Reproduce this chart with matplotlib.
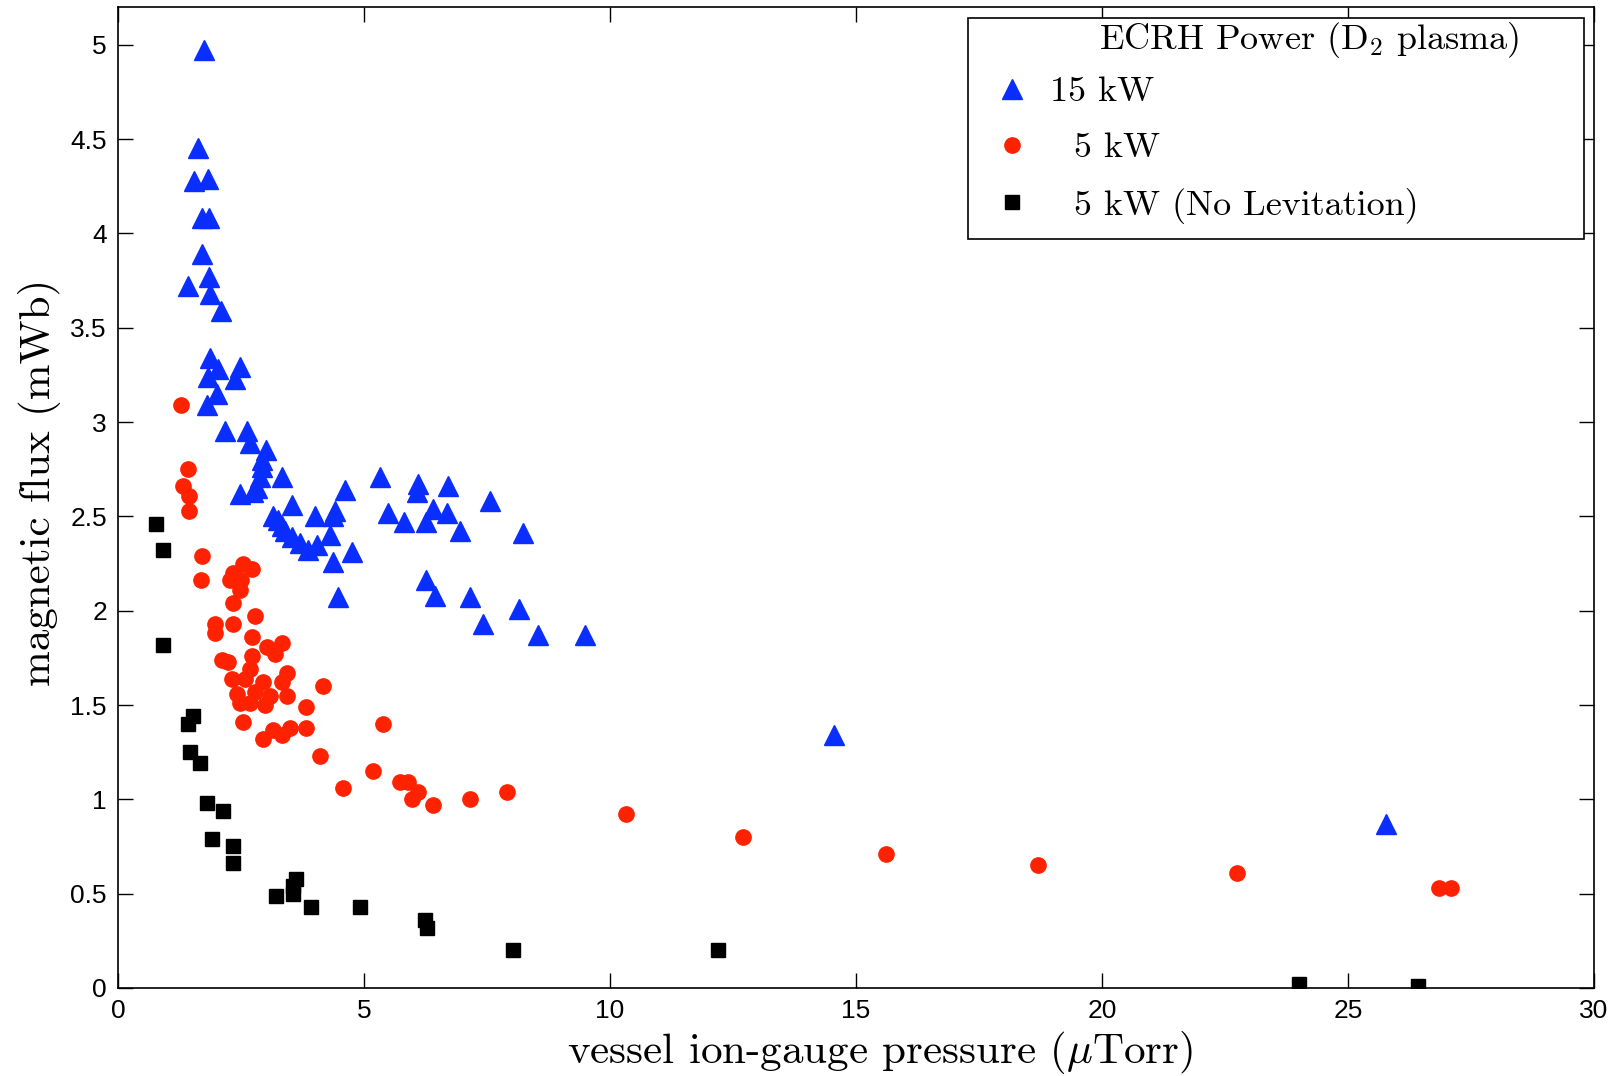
import matplotlib
matplotlib.use('Agg')
import matplotlib.pyplot as plt
from matplotlib.patches import Rectangle

# 15 kW ECRH (levitated)
p15 = [1.75, 1.63, 1.54, 1.82, 1.70, 1.84, 1.71, 1.43, 1.84, 1.87, 2.09, 1.87, 2.04, 2.48,
       1.82, 2.38, 2.01, 1.80, 2.17, 2.62, 2.68, 3.00, 2.93, 2.92, 2.89, 2.82, 2.48, 2.75,
       3.33, 4.61, 5.33, 6.10, 6.07, 6.71, 7.57, 3.53, 3.16, 3.25, 3.33, 3.39, 3.53, 3.70,
       3.87, 4.04, 4.00, 4.41, 4.38, 4.31, 4.38, 4.75, 4.48, 5.49, 5.81, 6.27, 6.41, 6.69,
       6.95, 8.24, 6.27, 6.44, 7.15, 8.16, 7.41, 8.54, 9.50, 14.55, 25.77]
f15 = [4.97, 4.45, 4.28, 4.29, 4.08, 4.08, 3.89, 3.72, 3.77, 3.68, 3.59, 3.34, 3.28, 3.29,
       3.24, 3.23, 3.15, 3.09, 2.95, 2.95, 2.89, 2.85, 2.80, 2.76, 2.71, 2.65, 2.62, 2.63,
       2.71, 2.64, 2.71, 2.67, 2.63, 2.66, 2.58, 2.56, 2.50, 2.48, 2.45, 2.42, 2.39, 2.36,
       2.32, 2.35, 2.50, 2.53, 2.50, 2.40, 2.26, 2.31, 2.07, 2.52, 2.47, 2.47, 2.54, 2.52,
       2.42, 2.41, 2.16, 2.08, 2.07, 2.01, 1.93, 1.87, 1.87, 1.34, 0.87]

# 5 kW ECRH (levitated)
p5 = [1.28, 1.42, 1.33, 1.45, 1.45, 1.70, 1.68, 2.55, 2.72, 2.34, 2.28, 2.51, 2.48, 2.33,
      2.78, 2.34, 1.97, 1.97, 2.72, 3.33, 3.02, 3.19, 2.72, 2.11, 2.24, 2.68, 3.43, 2.31,
      2.58, 2.95, 3.33, 4.16, 2.41, 2.78, 3.43, 3.09, 2.48, 2.68, 2.99, 3.83, 2.55, 5.39,
      3.16, 2.95, 3.50, 3.33, 3.83, 4.11, 4.58, 5.19, 5.73, 5.90, 6.10, 5.97, 6.41, 7.15,
      7.90, 10.32, 12.71, 15.62, 18.71, 22.75, 26.86, 27.09]
f5 = [3.09, 2.75, 2.66, 2.61, 2.53, 2.29, 2.16, 2.25, 2.22, 2.20, 2.16, 2.16, 2.11, 2.04,
      1.97, 1.93, 1.93, 1.88, 1.86, 1.83, 1.81, 1.77, 1.76, 1.74, 1.73, 1.69, 1.67, 1.64,
      1.64, 1.62, 1.62, 1.60, 1.56, 1.57, 1.55, 1.55, 1.51, 1.51, 1.50, 1.49, 1.41, 1.40,
      1.37, 1.32, 1.38, 1.34, 1.38, 1.23, 1.06, 1.15, 1.09, 1.09, 1.04, 1.00, 0.97, 1.00,
      1.04, 0.92, 0.80, 0.71, 0.65, 0.61, 0.53, 0.53]

# 5 kW ECRH, dipole supported (no levitation)
p5n = [0.77, 0.92, 0.92, 1.52, 1.43, 1.46, 1.67, 1.80, 2.13, 1.92, 2.34, 2.34, 3.21, 3.62,
       3.56, 3.55, 3.92, 4.92, 6.25, 6.29, 8.03, 12.20, 24.01, 26.42]
f5n = [2.46, 2.32, 1.82, 1.44, 1.40, 1.25, 1.19, 0.98, 0.94, 0.79, 0.75, 0.66, 0.49, 0.58,
       0.54, 0.50, 0.43, 0.43, 0.36, 0.32, 0.20, 0.20, 0.02, 0.01]

labels = ['15 kW', '  5 kW', '  5 kW (No Levitation)']
legend_title = r'ECRH Power ($\mathrm{D}_2$ plasma)'

plt.rcParams['mathtext.fontset'] = 'cm'

fig = plt.figure(figsize=(16.12, 10.76), dpi=100)
ax = fig.add_axes([0.0732, 0.0818, 0.9156, 0.9117])

ax.plot(p15, f15, linestyle='none', marker='^', ms=15, color='#0a2eff', mec='#0a2eff', mew=1, label=labels[0])
ax.plot(p5, f5, linestyle='none', marker='o', ms=11, color='#ff2200', mec='#ff2200', mew=1, label=labels[1])
ax.plot(p5n, f5n, linestyle='none', marker='s', ms=9.5, color='black', mec='black', mew=1, label=labels[2])

ax.set_xlim(0, 30)
ax.set_ylim(0, 5.2)
ax.set_xticks([0, 5, 10, 15, 20, 25, 30])
ax.set_yticks([0, 0.5, 1, 1.5, 2, 2.5, 3, 3.5, 4, 4.5, 5])
ax.set_yticklabels(['0', '0.5', '1', '1.5', '2', '2.5', '3', '3.5', '4', '4.5', '5'])

ax.tick_params(direction='in', length=11, width=1, top=True, right=True, pad=8)
for lab in ax.get_xticklabels() + ax.get_yticklabels():
    lab.set_fontfamily('Liberation Sans')
    lab.set_fontsize(19)
for s in ax.spines.values():
    s.set_linewidth(1.2)

ax.set_xlabel(r'vessel ion-gauge pressure ($\mu$Torr)', family='cmr10', fontsize=31, labelpad=4, x=0.516)
ax.set_ylabel('magnetic flux (mWb)', family='cmr10', fontsize=31, labelpad=7, y=0.515)

# legend box drawn by hand so the padding matches the original
ax.add_patch(Rectangle((0.5756, 0.7640), 0.4176, 0.2243, transform=ax.transAxes,
                       facecolor='white', edgecolor='black', lw=1.2, zorder=5))
ax.text(0.6644, 0.9664, legend_title, transform=ax.transAxes, family='cmr10', fontsize=26,
        ha='left', va='center', zorder=6)
leg = ax.legend(loc='upper left', bbox_to_anchor=(0.5937, 0.9295), borderaxespad=0,
                frameon=False, prop={'family': 'cmr10', 'size': 26},
                handletextpad=0.53, handlelength=1.0, labelspacing=0.65, borderpad=0)
leg.set_zorder(7)

fig.savefig('out.png', dpi=100)
